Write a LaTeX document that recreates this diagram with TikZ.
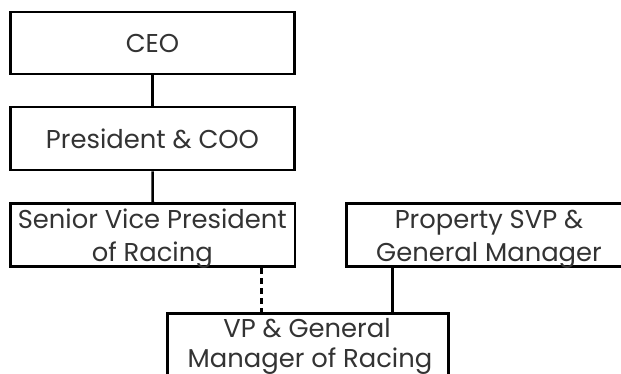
\documentclass[tikz,border=0pt]{standalone}
\usepackage{fontspec}
\setmainfont{Poppins}
\begin{document}
\begin{tikzpicture}[x=1pt,y=-1pt,
  box/.style={draw=black, line width=2.8pt, rectangle, inner sep=0pt, fill=white},
  lbl/.style={anchor=base, inner sep=0pt, text=black!80, font=\fontsize{25.8}{32}\selectfont},
  link/.style={draw=black, line width=2.6pt},
  dotted link/.style={link, dash pattern=on 6pt off 4pt}]
\useasboundingbox (0,0) rectangle (621,374);
% boxes
\node[box, minimum width=283.5pt, minimum height=62pt] (ceo) at (152.6,43) {};
\node[box, minimum width=283.5pt, minimum height=63pt] (pres) at (152.6,138.5) {};
\node[box, minimum width=284.5pt, minimum height=63.5pt] (svp) at (152.7,235) {};
\node[box, minimum width=284.5pt, minimum height=63.5pt] (prop) at (489,235) {};
\node[box, minimum width=281pt, minimum height=64pt] (vp) at (307.8,345.3) {};
% texts
\node[lbl] (ceoT) at (152.5,53) {CEO};
\node[lbl] (presT) at (152.5,149) {President \& COO};
\node[lbl] (svpT1) at (152.3,229) {Senior Vice President};
\node[lbl] (svpT2) at (152.3,261) {of Racing};
\node[lbl] (propT1) at (489,229) {Property SVP \&};
\node[lbl] (propT2) at (489,261) {General Manager};
\node[lbl] (vpT1) at (307,337) {VP \& General};
\node[lbl] (vpT2) at (310,367.5) {Manager of Racing};
% connectors
\draw[link] (ceo.south) -- (pres.north);
\draw[link] (pres.south) -- (svp.north);
\draw[dotted link] (svp.south -| 261.7,0) -- (vp.north -| 261.7,0);
\draw[link] (prop.south -| 392.3,0) -- (vp.north -| 392.3,0);
\end{tikzpicture}
\end{document}
